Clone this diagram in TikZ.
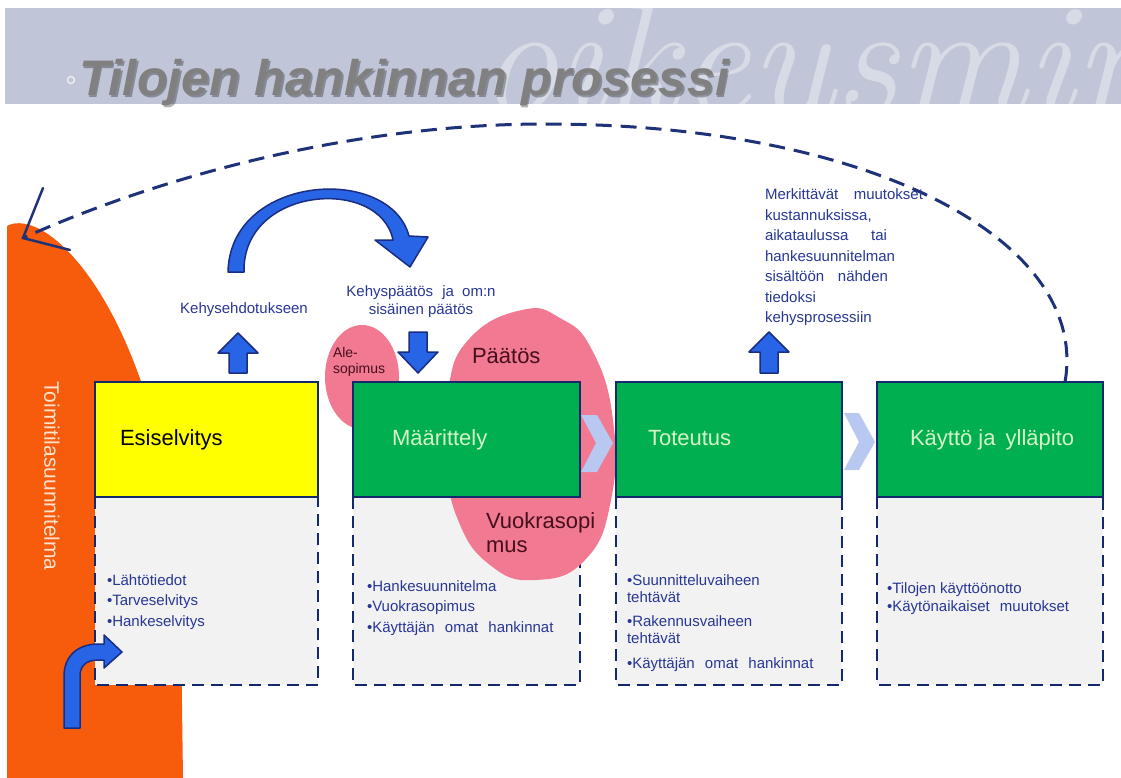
\documentclass[tikz,border=0pt]{standalone}
\usepackage{fontspec}
\newfontfamily\arialf{Liberation Sans}
\newcommand\myfs[1]{\fontsize{#1}{#1}\selectfont}
\definecolor{bandc}{RGB}{192,198,215}
\definecolor{titleg}{RGB}{128,128,128}
\definecolor{orangec}{RGB}{246,92,12}
\definecolor{orangetxt}{RGB}{255,226,206}
\definecolor{navya}{RGB}{30,50,120}
\definecolor{navyb}{RGB}{20,40,110}
\definecolor{navyt}{RGB}{40,55,150}
\definecolor{grayf}{RGB}{242,242,242}
\definecolor{yellowc}{RGB}{255,255,0}
\definecolor{greenc}{RGB}{0,176,80}
\definecolor{greent}{RGB}{214,244,200}
\definecolor{pinkc}{RGB}{241,121,145}
\definecolor{pinkt}{RGB}{70,15,30}
\definecolor{chevc}{RGB}{185,200,240}
\definecolor{bluef}{RGB}{40,100,230}
\definecolor{blued}{RGB}{25,45,130}
\tikzset{
  every node/.style={inner sep=0pt, outer sep=0pt},
  navytxt/.style={anchor=base west, text=navyt, font=\arialf\myfs{15}},
  navyctr/.style={anchor=base, text=navyt, font=\arialf\myfs{15}},
  boxtitle/.style={anchor=base west, font=\arialf\myfs{22}},
  pinktxt/.style={anchor=base west, text=pinkt, font=\arialf\myfs{22}},
  pinksmall/.style={anchor=base west, text=pinkt, font=\arialf\myfs{14}},
  topbox/.style={draw=navyb, line width=2.5pt, minimum height=115pt, anchor=north west},
  lowbox/.style={draw=navyb, line width=2pt, dash pattern=on 12pt off 7pt},
  bluearrow/.style={fill=bluef, draw=blued, line width=1.5pt, line join=round},
  arcline/.style={draw=navya, line width=3pt, dash pattern=on 16pt off 9pt},
  arcsolid/.style={draw=navya, line width=2.5pt, line cap=round},
}
\begin{document}
\begin{tikzpicture}[x=1pt,y=-1pt]
\useasboundingbox (0,0) rectangle (1121,778);
\fill[white] (0,0) rectangle (1121,778);
% title band
\fill[bandc] (5,8) rectangle (1121,104);
\begin{scope}
  \clip (5,8) rectangle (1121,104);
  \node[anchor=base west, text=white, opacity=0.38, font=\myfs{160}\itshape] (wm) at (478,114) {oikeusmin};
\end{scope}
\draw[white, line width=1.2pt, opacity=0.8] (71,80) circle (3.5);
\node[anchor=base west, text=black, opacity=0.3, font=\arialf\bfseries\itshape\myfs{50}] (titles) at (80.5,97.5) {\scalebox{1.01}[1]{Tilojen hankinnan prosessi}};
\node[anchor=base west, text=titleg, font=\arialf\bfseries\itshape\myfs{50}] (title) at (79,96) {\scalebox{1.01}[1]{Tilojen hankinnan prosessi}};
% orange side shape
\fill[orangec] (7,778) -- (7,226) .. controls (45,205) and (150,300) .. (180,560) -- (183,778) -- cycle;
\node[rotate=-90, text=orangetxt, font=\arialf\myfs{21}] (toim) at (52,476) {Toimitilasuunnitelma};
% dashed feedback arc
\coordinate (arcS) at (1065,382);
\coordinate (tipL) at (23,238);
\coordinate (armA) at (43,188);
\coordinate (armB) at (70,250);
\draw[arcline] (arcS) .. controls (1090,240) and (870,124) .. (545,124) .. controls (370,124) and (180,168) .. (tipL);
\draw[arcsolid] (armA) -- (tipL) -- (armB);
% lower dashed boxes
\fill[grayf] (95,497) rectangle (318,685);
\fill[grayf] (353,497) rectangle (580,685);
\fill[grayf] (616,497) rectangle (842,685);
\fill[grayf] (877,497) rectangle (1103,685);
\draw[lowbox] (95,497) -- (95,685) -- (318,685) -- (318,497);
\draw[lowbox] (353,497) -- (353,685) -- (580,685) -- (580,497);
\draw[lowbox] (616,497) -- (616,685) -- (842,685) -- (842,497);
\draw[lowbox] (877,497) -- (877,685) -- (1103,685) -- (1103,497);
% pink shapes
\fill[pinkc] (362,377) ellipse [x radius=37, y radius=52];
\fill[pinkc] plot[smooth cycle, tension=0.8] coordinates {(522,310) (470,338) (448,390) (447,460) (458,520) (490,565) (535,580) (585,560) (611,500) (613,420) (592,350) (560,318)};
% top boxes
\node[topbox, fill=yellowc, minimum width=223pt] (esi) at (95,382) {};
\node[topbox, fill=greenc, minimum width=227pt] (maa) at (353,382) {};
\node[topbox, fill=greenc, minimum width=226pt] (tot) at (616,382) {};
\node[topbox, fill=greenc, minimum width=226pt] (kay) at (877,382) {};
% chevrons
\fill[chevc] (581,415) -- (597,415) -- (613,443) -- (597,472) -- (581,472) -- (596,443) -- cycle;
\fill[chevc] (844,413) -- (859,413) -- (875,442) -- (859,470) -- (844,470) -- (859,442) -- cycle;
% blue arrows
\filldraw[bluearrow] (228,272) .. controls (230,174) and (390,164) .. (409,236) -- (428,237) -- (410,267) -- (375,240) -- (393,240) .. controls (380,176) and (242,186) .. (244,272) -- cycle;
\filldraw[bluearrow] (238,333) -- (258,353) -- (247,353) -- (247,373) -- (229,373) -- (229,353) -- (218,353) -- cycle;
\filldraw[bluearrow] (418,373) -- (438,352) -- (427,352) -- (427,332) -- (409,332) -- (409,352) -- (398,352) -- cycle;
\filldraw[bluearrow] (769,332) -- (789,352) -- (778,352) -- (778,373) -- (760,373) -- (760,352) -- (749,352) -- cycle;
\filldraw[bluearrow] (64,728) -- (64,676) .. controls (64,656) and (78,644) .. (98,644) -- (104,644) -- (104,635) -- (122,652) -- (104,668) -- (104,660) -- (98,660) .. controls (86,660) and (80,666) .. (80,676) -- (80,728) -- cycle;
% labels above boxes
\node[navyctr] (kehE) at (244,313) {Kehysehdotukseen};
\node[navyctr] (kehP1) at (421,296) {Kehyspäätös\hspace{5pt} ja\hspace{4pt} om:n};
\node[navyctr] (kehP2) at (421,314) {sisäinen päätös};
\node[navytxt] (m1) at (765,200) {\makebox[158pt][s]{Merkittävät muutokset}};
\node[navytxt] (m2) at (765,220) {kustannuksissa,};
\node[navytxt] (m3) at (765,240) {\makebox[122pt][s]{aikataulussa tai}};
\node[navytxt] (m4) at (765,261) {hankesuunnitelman};
\node[navytxt] (m5) at (765,281) {\makebox[123pt][s]{sisältöön nähden}};
\node[navytxt] (m6) at (765,302) {tiedoksi};
\node[navytxt] (m7) at (765,322) {kehysprosessiin};
% pink labels
\node[pinksmall] (ale1) at (333,357) {Ale-};
\node[pinksmall] (ale2) at (333,373) {sopimus};
\node[pinktxt] (paat) at (472,363) {Päätös};
\node[pinktxt] (vuo1) at (486,528) {Vuokrasopi};
\node[pinktxt] (vuo2) at (486,552) {mus};
% box titles
\node[boxtitle, text=black] (esiT) at (120,445) {Esiselvitys};
\node[boxtitle, text=greent] (maaT) at (392,445) {Määrittely};
\node[boxtitle, text=greent] (totT) at (648,445) {Toteutus};
\node[boxtitle, text=greent] (kayT) at (910,445) {Käyttö ja\hspace{4pt} ylläpito};
% lists
\node[navytxt] (e1) at (107,585) {•Lähtötiedot};
\node[navytxt] (e2) at (107,605) {•Tarveselvitys};
\node[navytxt] (e3) at (107,626) {•Hankeselvitys};
\node[navytxt] (d1) at (367,591) {•Hankesuunnitelma};
\node[navytxt] (d2) at (367,611) {•Vuokrasopimus};
\node[navytxt] (d3) at (367,632) {•Käyttäjän\hspace{6pt} omat\hspace{6pt} hankinnat};
\node[navytxt] (t1) at (627,585) {•Suunnitteluvaiheen};
\node[navytxt] (t2) at (627,602) {tehtävät};
\node[navytxt] (t3) at (627,626) {•Rakennusvaiheen};
\node[navytxt] (t4) at (627,643) {tehtävät};
\node[navytxt] (t5) at (627,668) {•Käyttäjän\hspace{6pt} omat\hspace{6pt} hankinnat};
\node[navytxt] (k1) at (887,593) {•Tilojen käyttöönotto};
\node[navytxt] (k2) at (887,611) {•Käytönaikaiset\hspace{6pt} muutokset};
\end{tikzpicture}
\end{document}
